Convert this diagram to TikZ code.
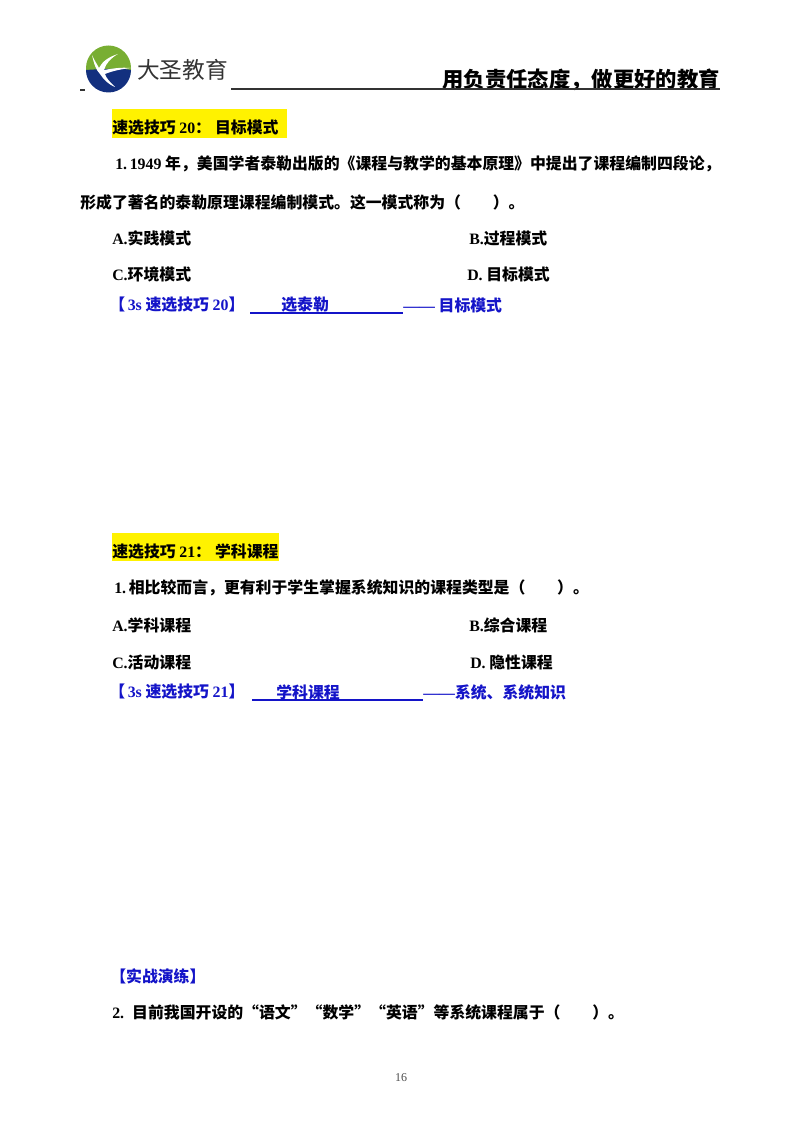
\documentclass[tikz,border=0pt]{standalone}
\usepackage{fontspec}
\setmainfont{Liberation Serif}
\newfontfamily\cjk{Noto Sans CJK SC}
\definecolor{tipblue}{HTML}{1414C8}
\definecolor{logogreen}{HTML}{78AE32}
\definecolor{logonavy}{HTML}{13307F}
\newcommand{\lat}[1]{{\rmfamily\bfseries #1}}
\tikzset{
	line/.style={anchor=west,inner sep=0pt,font=\cjk\bfseries\fontsize{11.9}{11.9}\selectfont},
	tip/.style={line,text=tipblue},
	under/.style={draw=tipblue,line width=0.8pt}
}
\begin{document}
\begin{tikzpicture}[x=0.75pt,y=-0.75pt]
	\useasboundingbox (0,0) rectangle (800,1130);
	% logo
	\fill[logogreen] (108.5,68) circle (22.5);
	\fill[logonavy] (86,70) arc (180:0:22.5) .. controls (124,68) and (100,69) .. (86,70) -- cycle;
	\fill[white] (92,55) .. controls (94,64) and (96,70) .. (100,74) .. controls (104,80) and (108,84) .. (115,87) .. controls (110,82) and (106,78) .. (105,74) .. controls (112,71) and (122,69) .. (131,68) .. controls (120,67) and (110,69) .. (104,70) .. controls (106,63) and (111,58) .. (118,54) .. controls (108,57) and (102,62) .. (99,68) .. controls (97,64) and (94,60) .. (92,55) -- cycle;
	\node[anchor=west,inner sep=0pt,font=\cjk\fontsize{17}{17}\selectfont,text=black!80] (brand) at (137,70) {大圣教育};
	\node[line,anchor=east,font=\cjk\bfseries\fontsize{16}{16}\selectfont] (motto) at (720,80) {用负责任态度，做更好的教育};
	\coordinate (rulea) at (80,90);
	\coordinate (ruleb) at (85,90);
	\coordinate (rulec) at (231,89);
	\coordinate (ruled) at (720,89);
	\draw[line width=0.9pt,black!80] (rulea)--(ruleb);
	\draw[line width=0.9pt,black!80] (rulec)--(ruled);
	% first tip
	\fill[yellow] (112,109) rectangle (287,138);
	\node[line] (heada) at (112,128) {速选技巧 \lat{20}：\hspace{3pt}目标模式};
	\node[line] (qa) at (115,164) {\lat{1.\,1949} 年，美国学者泰勒出版的《课程与教学的基本原理》中提出了课程编制四段论，};
	\node[line] (qb) at (80,202) {形成了著名的泰勒原理课程编制模式。这一模式称为（\hspace{2em}）。};
	\node[line] (aa) at (112,238) {\lat{A.}实践模式};
	\node[line] (ab) at (469,238) {\lat{B.}过程模式};
	\node[line] (ac) at (112,274) {\lat{C.}环境模式};
	\node[line] (ad) at (467,274) {\lat{D.} 目标模式};
	\node[tip] (tipa) at (109,305) {【\hspace{2pt}\lat{3s} 速选技巧 \lat{20}】};
	\node[tip] (keya) at (281,305) {选泰勒};
	\node[tip] (enda) at (403,305) {\lat{——} 目标模式};
	\coordinate (ula) at (250,313);
	\coordinate (ulb) at (403,313);
	\draw[under] (ula)--(ulb);
	% second tip
	\fill[yellow] (112,533) rectangle (279,561);
	\node[line] (headb) at (112,552) {速选技巧 \lat{21}：\hspace{3pt}学科课程};
	\node[line] (qc) at (114,588) {\lat{1.}\,相比较而言，更有利于学生掌握系统知识的课程类型是（\hspace{2em}）。};
	\node[line] (ba) at (112,625) {\lat{A.}学科课程};
	\node[line] (bb) at (469,625) {\lat{B.}综合课程};
	\node[line] (bc) at (112,662) {\lat{C.}活动课程};
	\node[line] (bd) at (470,662) {\lat{D.} 隐性课程};
	\node[tip] (tipb) at (109,692) {【\hspace{2pt}\lat{3s} 速选技巧 \lat{21}】};
	\node[tip] (keyb) at (276,692) {学科课程};
	\node[tip] (endb) at (423,692) {\lat{——}系统、系统知识};
	\coordinate (ulc) at (252,700);
	\coordinate (uld) at (423,700);
	\draw[under] (ulc)--(uld);
	% practice
	\node[tip] (prac) at (110,976) {【实战演练】};
	\node[line] (qd) at (112,1012) {\lat{2.}\hspace{6pt}目前我国开设的“语文”“数学”“英语”等系统课程属于（\hspace{2em}）。};
	\node[anchor=center,inner sep=0pt,font=\fontsize{9}{9}\selectfont,text=black!70] (page) at (401,1078) {16};
\end{tikzpicture}
\end{document}
